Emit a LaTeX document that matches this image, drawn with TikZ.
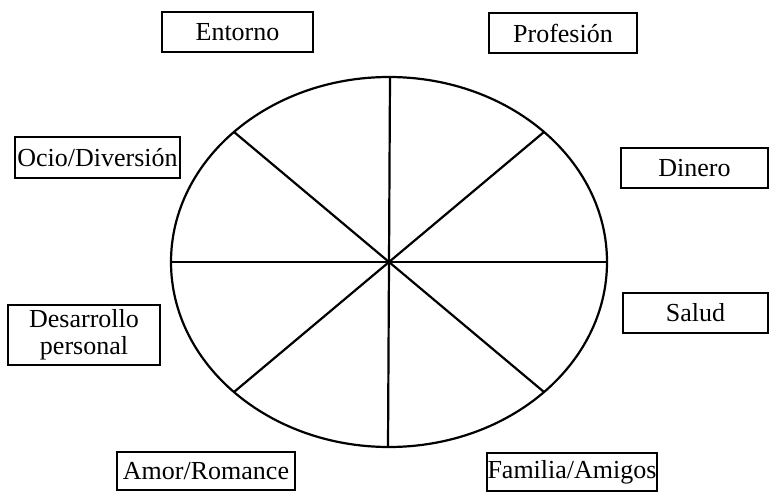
\documentclass[tikz,border=0pt]{standalone}
\usepackage{fontspec}
\setmainfont{Liberation Serif}
\begin{document}
\begin{tikzpicture}[x=1pt,y=-1pt,
  lbl/.style={draw, line width=1.4pt, inner sep=0pt, align=center,
    font=\fontsize{26}{27}\selectfont},
  wheel/.style={line width=2.2pt}]
\useasboundingbox (0,0) rectangle (770,492);
% wheel
\coordinate (c) at (389,262);
\draw[wheel] (c) ellipse [x radius=218pt, y radius=185pt];
\coordinate (top) at (390,77);
\coordinate (bot) at (388,447);
\coordinate (lft) at (171,262);
\coordinate (rgt) at (607,262);
\coordinate (ul) at (234,132);
\coordinate (ur) at (544,132);
\coordinate (ll) at (234,392);
\coordinate (lr) at (544,392);
\draw[wheel] (top) -- (c) -- (bot);
\draw[wheel] (lft) -- (c) -- (rgt);
\draw[wheel] (ul) -- (c) -- (lr);
\draw[wheel] (ur) -- (c) -- (ll);
% labels
\node[lbl, minimum width=151pt, minimum height=40pt] (entorno) at (237.5,32) {Entorno};
\node[lbl, minimum width=148pt, minimum height=40pt] (profesion) at (563,33) {Profesión};
\node[lbl, minimum width=165pt, minimum height=41pt] (ocio) at (97.5,157.5) {Ocio/Diversión};
\node[lbl, minimum width=147pt, minimum height=40pt] (dinero) at (694.5,168) {Dinero};
\node[lbl, minimum width=152pt, minimum height=60pt] (desarrollo) at (84,335) {Desarrollo\\personal};
\node[lbl, minimum width=145pt, minimum height=40pt] (salud) at (695.5,313) {Salud};
\node[lbl, minimum width=178pt, minimum height=38pt] (amor) at (206,471) {Amor/Romance};
\node[lbl, minimum width=170pt, minimum height=38pt] (familia) at (572,472) {Familia/Amigos};
\end{tikzpicture}
\end{document}
